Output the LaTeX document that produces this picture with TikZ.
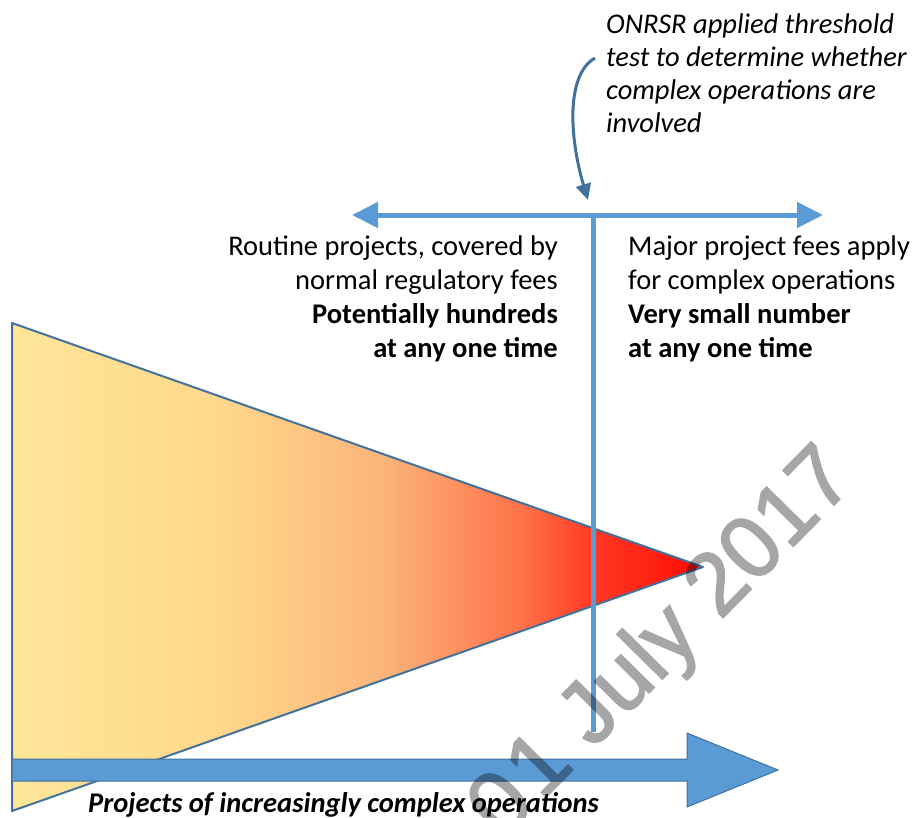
\documentclass[tikz,border=0pt]{standalone}
\usepackage{fontspec}
\setmainfont{Carlito}
\newfontfamily\wmfont[FakeBold=2]{Liberation Sans}
\usetikzlibrary{arrows.meta}
\definecolor{lineblue}{HTML}{5B9BD5}
\definecolor{edgeblue}{HTML}{41719C}
\definecolor{sa}{HTML}{FFE699}
\definecolor{sb}{HTML}{FFD88C}
\definecolor{sc}{HTML}{FBB479}
\definecolor{sd}{HTML}{FF7048}
\definecolor{se}{HTML}{FF3A25}
\definecolor{sf}{HTML}{FF0A00}
\pgfdeclarehorizontalshading{trishade}{100bp}{color(0bp)=(sa); color(25bp)=(sa); color(40bp)=(sb); color(52bp)=(sc); color(62bp)=(sd); color(67bp)=(se); color(75bp)=(sf); color(100bp)=(sf)}
\tikzset{
  body/.style={font=\fontsize{28.5}{33.7}\selectfont, inner sep=0pt, text=black},
  blueline/.style={draw=lineblue, line width=5pt},
  wm/.style={font=\wmfont\fontsize{88}{88}\selectfont, inner sep=0pt, text=black}
}
\begin{document}
\begin{tikzpicture}[x=1pt,y=-1pt]
\useasboundingbox (0,0) rectangle (913,817);
% triangle
\shadedraw[shading=trishade, draw=edgeblue, line width=2pt, line join=round] (12,323) -- (703,567) -- (12,811) -- cycle;
% coordinates
\coordinate (hl) at (352,215);
\coordinate (hr) at (823,215);
\coordinate (vt) at (593,215);
\coordinate (vb) at (593,732);
% vertical threshold line
\draw[blueline] (vt) -- (vb);
% horizontal double arrow
\draw[blueline, {Triangle[length=26pt,width=25pt]}-{Triangle[length=26pt,width=25pt]}] (hl) -- (hr);
% bottom big arrow
\filldraw[fill=lineblue, draw=edgeblue, line width=1pt, line join=miter]
  (12,759) -- (687,759) -- (687,733) -- (778,770) -- (687,807) -- (687,781) -- (12,781) -- cycle;
% texts (anchor base = baseline of last line)
\node[body, align=right, anchor=base east] (routine) at (558,357)
  {Routine projects, covered by\\normal regulatory fees\\\textbf{Potentially hundreds}\\\textbf{at any one time}};
\node[body, align=left, anchor=base west] (major) at (628,357)
  {Major project fees apply\\for complex operations\\\textbf{Very small number}\\\textbf{at any one time}};
\node[body, align=left, anchor=base west, font=\fontsize{28.5}{33}\selectfont\itshape] (onrsr) at (606,132)
  {ONRSR applied threshold\\test to determine whether\\complex operations are\\involved};
\node[body, anchor=base west, font=\fontsize{28.5}{33}\selectfont\bfseries\itshape] (axis) at (88,812)
  {Projects of increasingly complex operations};
% curved pointer
\coordinate (cs) at (595,58);
\coordinate (ce) at (588,200);
\draw[edgeblue, line width=3pt, -{Triangle[length=16pt,width=15pt]}] (cs) .. controls (565,75) and (570,140) .. (ce);
% watermark
\begin{scope}
\clip (0,0) rectangle (913,817);
\begin{scope}[transparency group, opacity=0.35]
\node[wm, rotate=45.4] (wmark) at (664,645) {0\hspace{6pt}1 July 2017};
\end{scope}
\end{scope}
\end{tikzpicture}
\end{document}
